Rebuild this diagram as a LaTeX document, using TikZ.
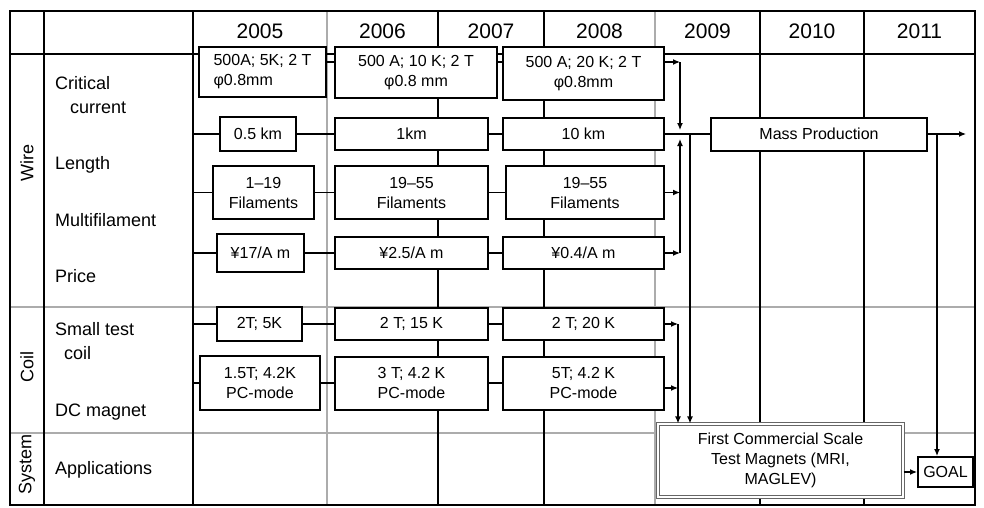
\documentclass[tikz,border=0pt]{standalone}
\usepackage{fontspec}
\setmainfont{Liberation Sans}
\usetikzlibrary{arrows.meta}

\begin{document}
\begin{tikzpicture}[x=1pt, y=-1pt, >={Latex[length=7pt,width=6pt]},
    box/.style={draw, fill=white, line width=2pt, inner sep=0pt,
        align=center, font=\fontsize{16}{20}\selectfont},
    gridline/.style={line width=1.3pt},
    softline/.style={line width=1.4pt, gray!65},
    link/.style={line width=1.2pt},
    year/.style={font=\fontsize{21}{24}\selectfont},
    rowlabel/.style={anchor=west, inner sep=0pt, align=left,
        font=\fontsize{18}{24}\selectfont},
    group/.style={rotate=90, font=\fontsize{18}{22}\selectfont}
]
    \useasboundingbox (0,0) rectangle (984,507);

    % grid %
    \foreach \x in {327,655}
        \draw[softline] (\x,11) -- (\x,505);
    \foreach \y in {307,433}
        \draw[softline] (10,\y) -- (975,\y);
    \foreach \x in {44,193,438,544,760,864}
        \draw[gridline] (\x,11) -- (\x,505);
    \draw[gridline] (10,54) -- (975,54);
    \draw[gridline] (10,11) rectangle (975,505);

    % years %
    \foreach \yr/\x in {2005/260, 2006/382.5, 2007/491, 2008/599.5,
                        2009/707.5, 2010/812, 2011/919.5}
        \node[year] (y\yr) at (\x,31) {\yr};

    % labels %
    \node[group] (wire) at (27,163) {Wire};
    \node[group] (coil) at (27,367) {Coil};
    \node[group] (system) at (27,464) {System};

    \node[rowlabel] (critical) at (55,95.5) {Critical\\\hspace*{15pt}current};
    \node[rowlabel] (length) at (55,165) {Length};
    \node[rowlabel] (multi) at (55,220) {Multifilament};
    \node[rowlabel] (price) at (55,276) {Price};
    \node[rowlabel] (smalltest) at (55,341.5) {Small test\\\hspace*{9pt}coil};
    \node[rowlabel] (dcmagnet) at (55,412) {DC magnet};
    \node[rowlabel] (applications) at (55,470) {Applications};

    % 2005 %
    \node [box,
        align=left,
        minimum width=127pt,
        minimum height=50pt
    ] (cc05) at (262.5,72) {500A; 5K; 2 T\\φ0.8mm};

    \node [box,
        minimum width=76pt,
        minimum height=34pt
    ] (len05) at (258,134) {0.5 km};

    \node [box,
        minimum width=101pt,
        minimum height=53pt
    ] (fil05) at (263.5,192.5) {1–19\\Filaments};

    \node [box,
        minimum width=87pt,
        minimum height=38pt
    ] (pr05) at (260.5,253) {¥17/A m};

    \node [box,
        minimum width=85pt,
        minimum height=34pt
    ] (stc05) at (259.5,324) {2T; 5K};

    \node [box,
        minimum width=120pt,
        minimum height=54pt
    ] (dc05) at (260,383) {1.5T; 4.2K\\PC-mode};

    % 2006 %
    \node [box,
        minimum width=162pt,
        minimum height=51pt
    ] (cc06) at (416,72.5) {500 A; 10 K; 2 T\\φ0.8 mm};

    \node [box,
        minimum width=153pt,
        minimum height=32pt
    ] (len06) at (411.5,134) {1km};

    \node [box,
        minimum width=153pt,
        minimum height=53pt
    ] (fil06) at (411.5,192.5) {19–55\\Filaments};

    \node [box,
        minimum width=153pt,
        minimum height=32pt
    ] (pr06) at (411.5,253) {¥2.5/A m};

    \node [box,
        minimum width=153pt,
        minimum height=32pt
    ] (stc06) at (411.5,324) {2 T; 15 K};

    \node [box,
        minimum width=153pt,
        minimum height=53pt
    ] (dc06) at (411.5,383) {3 T; 4.2 K\\PC-mode};

    % 2008 %
    \node [box,
        minimum width=161pt,
        minimum height=53pt
    ] (cc08) at (583.5,73.5) {500 A; 20 K; 2 T\\φ0.8mm};

    \node [box,
        minimum width=161pt,
        minimum height=32pt
    ] (len08) at (583.5,134) {10 km};

    \node [box,
        minimum width=158pt,
        minimum height=53pt
    ] (fil08) at (585,192.5) {19–55\\Filaments};

    \node [box,
        minimum width=161pt,
        minimum height=32pt
    ] (pr08) at (583.5,253) {¥0.4/A m};

    \node [box,
        minimum width=161pt,
        minimum height=32pt
    ] (stc08) at (583.5,324) {2 T; 20 K};

    \node [box,
        minimum width=161pt,
        minimum height=53pt
    ] (dc08) at (583.5,383) {5T; 4.2 K\\PC-mode};

    % 2009 - 2011 %
    \node [box,
        minimum width=216pt,
        minimum height=33pt
    ] (mp) at (819,134) {Mass Production};

    \node [box,
        draw=gray!80!black,
        line width=1.2pt,
        double=white,
        double distance=1.4pt,
        minimum width=245pt,
        minimum height=73pt
    ] (fcs) at (780.5,460.5) {First Commercial Scale\\Test Magnets (MRI,\\MAGLEV)};

    \node [box,
        minimum width=55pt,
        minimum height=30pt
    ] (goal) at (945.5,472) {GOAL};

    % arrow heaven %
    \coordinate (start) at (193,0);
    \coordinate (busA) at (680,62);
    \coordinate (busM) at (680,134);
    \coordinate (busB) at (680,253);
    \coordinate (coilbus) at (678,324);
    \coordinate (drop) at (690,134);
    \coordinate (goalbus) at (937,134);
    \coordinate (mpend) at (966,134);

    \foreach \n in {len05, fil05, pr05, stc05, dc05}
        \draw[link] (\n.west -| start) -- (\n.west);

    \draw[link] ([yshift=10pt]cc05.east) -- ([yshift=10pt]cc05.east -| cc06.west);
    \draw[link] (cc06.east |- busA) -- (cc08.west |- busA);
    \foreach \r in {len, fil, pr, stc, dc} {
        \draw[link] (\r05) -- (\r06);
        \draw[link] (\r06) -- (\r08);
    }

    \draw[link, ->] (cc08.east |- busA) -- (busA);
    \draw[link, ->] (busA) -- ([yshift=4pt]busM);
    \draw[link, ->] (busB) -- ([yshift=-5pt]busM);
    \draw[link, ->] (fil08.east) -- (fil08.east -| busB);
    \draw[link, ->] (pr08.east) -- (busB);
    \draw[link] (len08) -- (mp);
    \draw[link, ->] (drop) -- (drop |- fcs.north);

    \draw[link, ->] (stc08.east) -- (coilbus);
    \draw[link, ->] ([yshift=-5pt]dc08.east) -- ([yshift=-5pt]dc08.east -| coilbus);
    \draw[link, ->] (coilbus) -- (coilbus |- fcs.north);

    \draw[link, ->] (mp) -- (mpend);
    \draw[link, ->] (goalbus) -- (goalbus |- goal.north);
    \draw[link, ->] (fcs.east |- goal) -- (goal.west);
\end{tikzpicture}
\end{document}
